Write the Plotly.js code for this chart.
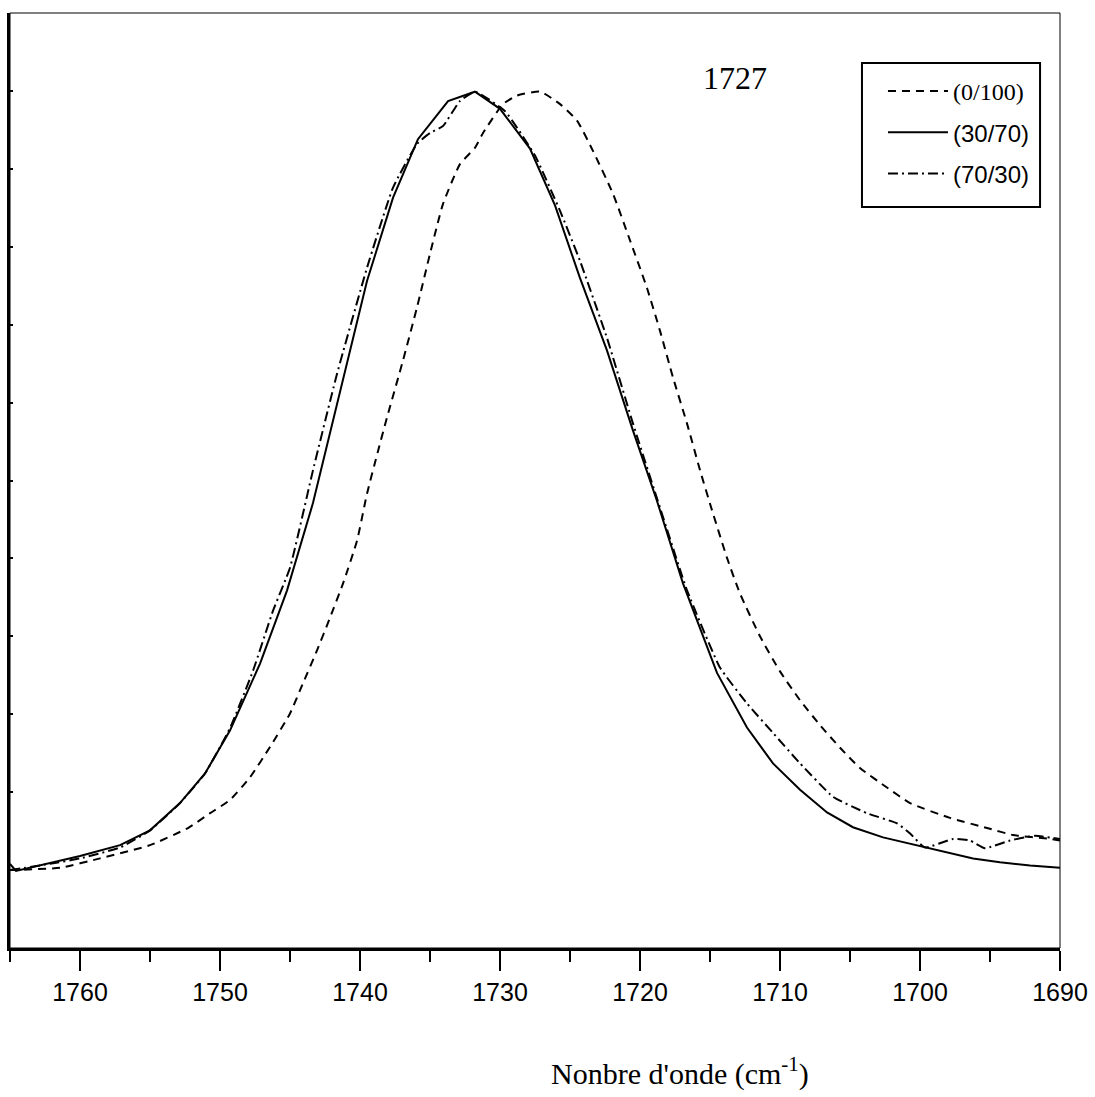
<!DOCTYPE html>
<html>
<head>
<meta charset="utf-8">
<script src="https://cdn.plot.ly/plotly-3.0.1.min.js"></script>
<style>
  html, body { margin: 0; padding: 0; background: #ffffff; }
  #chart { width: 1095px; height: 1097px; }
</style>
</head>
<body>
<div id="chart"></div>
<script>
// ---- Data (wavenumber in cm-1, normalised absorbance) ----
const wn_0_100 = [1765.0, 1761.43, 1758.57, 1755.0, 1752.29, 1750.71, 1749.29, 1747.86, 1746.43, 1745.0,
  1744.07, 1743.07, 1742.14, 1741.21, 1740.21, 1739.5, 1738.71, 1738.07, 1736.93, 1735.93,
  1735.0, 1734.07, 1732.86, 1731.79, 1731.21, 1729.79, 1728.79, 1727.14, 1725.71, 1724.5,
  1723.36, 1721.93, 1720.71, 1719.5, 1718.57, 1717.64, 1716.64, 1715.71, 1714.86, 1713.79,
  1712.86, 1711.43, 1710.0, 1708.57, 1707.14, 1705.71, 1704.29, 1702.36, 1700.71, 1697.86,
  1695.21, 1693.36, 1690.71, 1690.0];
const abs_0_100 = [0.000, 0.003, 0.015, 0.032, 0.054, 0.073, 0.090, 0.119, 0.158, 0.201,
  0.240, 0.282, 0.324, 0.368, 0.423, 0.483, 0.538, 0.581, 0.654, 0.722,
  0.791, 0.855, 0.906, 0.927, 0.946, 0.983, 0.994, 0.999, 0.983, 0.962,
  0.923, 0.868, 0.808, 0.747, 0.692, 0.632, 0.573, 0.513, 0.462, 0.401,
  0.355, 0.300, 0.255, 0.218, 0.186, 0.157, 0.131, 0.106, 0.086, 0.067,
  0.054, 0.045, 0.040, 0.038];

const wn_30_70 = [1765.0, 1764.57, 1760.0, 1757.14, 1755.0, 1752.86, 1751.07, 1749.29, 1747.14, 1745.21,
  1743.36, 1741.43, 1739.5, 1737.64, 1735.86, 1733.71, 1731.79, 1730.0, 1727.86, 1726.07,
  1724.29, 1722.36, 1720.5, 1718.79, 1716.93, 1714.5, 1712.36, 1710.5, 1708.57, 1706.64,
  1704.79, 1702.64, 1699.64, 1697.86, 1696.21, 1694.29, 1692.14, 1690.0];
const abs_30_70 = [0.008, -0.001, 0.018, 0.032, 0.051, 0.086, 0.124, 0.179, 0.265, 0.359,
  0.471, 0.612, 0.756, 0.863, 0.938, 0.987, 0.999, 0.977, 0.926, 0.853,
  0.760, 0.667, 0.564, 0.474, 0.368, 0.253, 0.183, 0.137, 0.103, 0.074,
  0.055, 0.042, 0.029, 0.022, 0.015, 0.010, 0.006, 0.003];

const wn_70_30 = [1765.0, 1762.14, 1760.0, 1757.14, 1755.0, 1752.86, 1751.07, 1749.29, 1747.64, 1746.21,
  1745.0, 1743.36, 1741.64, 1739.5, 1737.64, 1735.93, 1735.0, 1734.07, 1732.86, 1731.79,
  1729.64, 1727.5, 1725.71, 1724.29, 1722.36, 1720.5, 1718.57, 1716.64, 1714.29, 1712.36,
  1710.5, 1708.57, 1706.21, 1703.79, 1701.64, 1700.71, 1699.64, 1697.64, 1696.43, 1695.36,
  1693.57, 1691.79, 1690.0];
const abs_70_30 = [0.000, 0.008, 0.015, 0.029, 0.051, 0.086, 0.124, 0.182, 0.256, 0.333,
  0.388, 0.513, 0.637, 0.773, 0.876, 0.932, 0.946, 0.955, 0.987, 0.999,
  0.974, 0.917, 0.846, 0.782, 0.683, 0.573, 0.465, 0.359, 0.260, 0.214,
  0.176, 0.137, 0.094, 0.073, 0.060, 0.047, 0.029, 0.040, 0.038, 0.028,
  0.038, 0.044, 0.040];

const seriesNames = ['(0/100)', '(30/70)', '(70/30)'];
const xTickVals = [1760, 1750, 1740, 1730, 1720, 1710, 1700, 1690];
const peakLabel = '1727';
const xTitle = "Nonbre d'onde (cm<sup>-1</sup>)";

// ---- Traces ----
const traces = [
  { x: wn_0_100, y: abs_0_100, type: 'scatter', mode: 'lines', legendgroup: 'a',
    name: '<span style="font-family:\'Liberation Serif\',\'Times New Roman\',serif">' + seriesNames[0] + '</span>',
    line: { color: '#000', width: 2, dash: '8px,6px', shape: 'spline', smoothing: 0.5 } },
  { x: wn_30_70, y: abs_30_70, type: 'scatter', mode: 'lines', legendgroup: 'b',
    name: seriesNames[1],
    line: { color: '#000', width: 2, dash: 'solid', shape: 'linear' } },
  { x: wn_70_30, y: abs_70_30, type: 'scatter', mode: 'lines', legendgroup: 'c',
    name: seriesNames[2],
    line: { color: '#000', width: 2, dash: '10px,4px,2px,4px', shape: 'spline', smoothing: 0.4 } }
];

const layout = {
  width: 1095, height: 1097,
  margin: { l: 10, r: 35, t: 13, b: 149 },
  paper_bgcolor: '#fff', plot_bgcolor: '#fff',
  showlegend: true,
  font: { family: "'Liberation Sans', Arial, sans-serif", color: '#000' },
  xaxis: {
    range: [1765, 1690], autorange: false,
    tickmode: 'array', tickvals: xTickVals,
    ticks: 'outside', ticklen: 20, tickwidth: 2, tickcolor: '#000',
    minor: { dtick: 5, tick0: 1690, ticks: 'outside', ticklen: 11, tickwidth: 2, tickcolor: '#000' },
    showgrid: false, zeroline: false,
    showline: true, linecolor: '#000', linewidth: 3,
    tickfont: { size: 25, family: "'Liberation Sans', Arial, sans-serif" }
  },
  yaxis: {
    range: [-0.1, 1.1], autorange: false,
    tickmode: 'linear', tick0: -0.1, dtick: 0.1,
    ticks: 'inside', ticklen: 3, tickwidth: 2, tickcolor: '#000',
    showticklabels: false,
    showgrid: false, zeroline: false,
    showline: true, linecolor: '#000', linewidth: 3
  },
  legend: {
    x: 0.8314, y: 0.9401, xanchor: 'left', yanchor: 'top',
    bgcolor: 'rgba(0,0,0,0)', borderwidth: 0,
    font: { size: 24, family: "'Liberation Sans', Arial, sans-serif", color: '#000' },
    itemwidth: 60, tracegroupgap: 7, traceorder: 'grouped'
  },
  shapes: [
    { type: 'rect', xref: 'paper', yref: 'paper', x0: 0, x1: 1, y0: 0, y1: 1,
      line: { color: '#000', width: 1 }, fillcolor: 'rgba(0,0,0,0)', layer: 'below' },
    { type: 'rect', xref: 'paper', yref: 'paper', x0: 0.8114, x1: 0.981, y0: 0.7925, y1: 0.9465,
      line: { color: '#000', width: 2 }, fillcolor: '#fff', layer: 'above' }
  ],
  annotations: [
    { text: peakLabel, xref: 'paper', yref: 'paper', x: 0.690, y: 0.931,
      xanchor: 'center', yanchor: 'middle', showarrow: false,
      font: { size: 32, family: "'Liberation Serif', 'Times New Roman', serif", color: '#000' } },
    { text: xTitle, xref: 'paper', yref: 'paper', x: 0.638, y: -0.132,
      xanchor: 'center', yanchor: 'middle', showarrow: false,
      font: { size: 30, family: "'Liberation Serif', 'Times New Roman', serif", color: '#000' } }
  ]
};

Plotly.newPlot('chart', traces, layout, { displayModeBar: false, staticPlot: true });
</script>
</body>
</html>
